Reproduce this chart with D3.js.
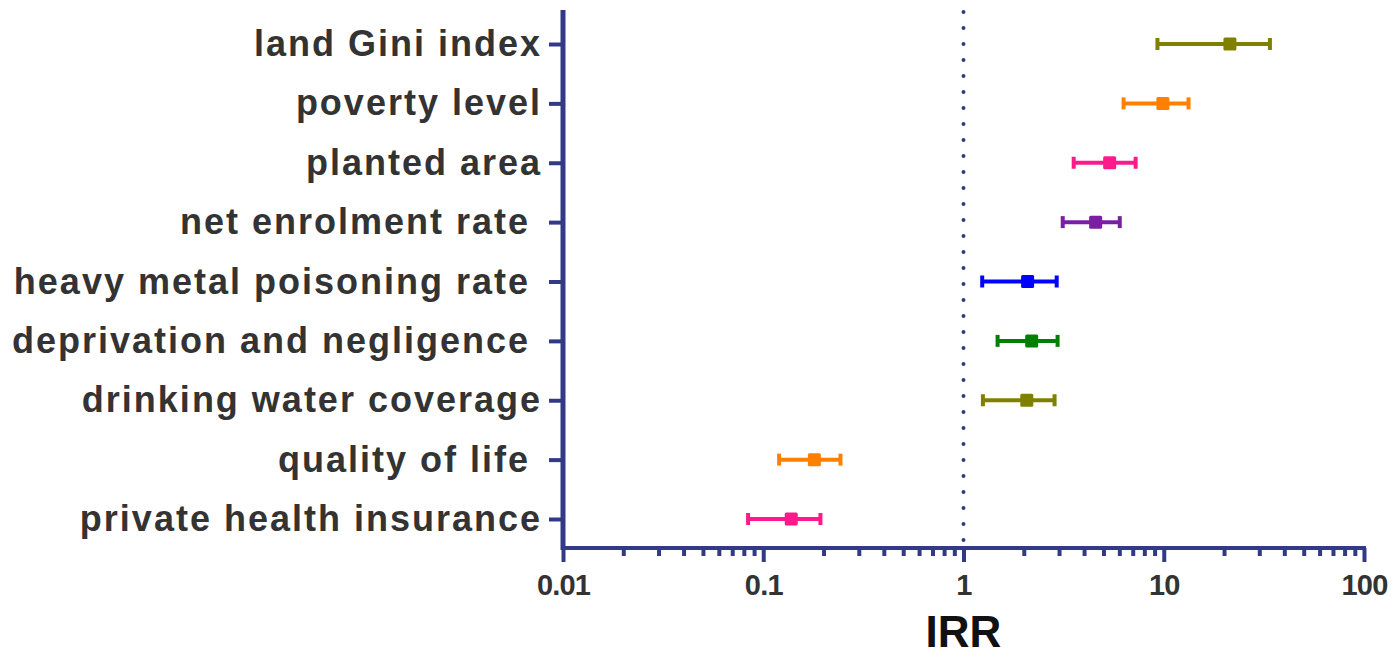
<!DOCTYPE html>
<html>
<head>
<meta charset="utf-8">
<script src="https://cdn.jsdelivr.net/npm/d3@7"></script>
<style>
  body { margin: 0; background: #fff; }
  text { font-family: "Liberation Sans", Arial, sans-serif; }
</style>
</head>
<body>
<div id="chart"></div>
<script>

// categories top to bottom (trailing spaces are in the original labels)
var categories = [
  "land Gini index",
  "poverty level",
  "planted area",
  "net enrolment rate ",
  "heavy metal poisoning rate ",
  "deprivation and negligence ",
  "drinking water coverage",
  "quality of life ",
  "private health insurance"
];
var irr   = [21.4, 9.9, 5.37, 4.57, 2.09, 2.19, 2.07, 0.18, 0.138];
var lower = [9.3, 6.3, 3.55, 3.13, 1.24, 1.48, 1.25, 0.12, 0.084];
var upper = [33.9, 13.3, 7.24, 6.03, 2.92, 2.95, 2.85, 0.243, 0.193];
var colors = ["#808000", "#ff8000", "#ff1a8c", "#7b1fa2", "#0000ff",
              "#008000", "#808000", "#ff8000", "#ff1a8c"];
var xTicks = [0.01, 0.1, 1, 10, 100];
var xTickLabels = ["0.01", "0.1", "1", "10", "100"];

var width = 1396, height = 656,
    axisColor = "#323a87";

var svg = d3.select("#chart")
    .append("svg")
        .attr("width", width)
        .attr("height", height);

// scales
var xScale = d3.scaleLog()
    .domain([0.01, 100])
    .range([563, 1364]);

var yScale = d3.scalePoint()
    .domain(categories)
    .range([44, 519]);

// minor ticks 2..9 in each decade
var minorTicks = [];
xTicks.slice(0, -1).forEach(function(t) {
    for (var k = 2; k < 10; k++) minorTicks.push(t * k);
});

// x axis: line + major/minor ticks drawn with d3 axes
var xAxisMajor = d3.axisBottom(xScale)
    .tickValues(xTicks)
    .tickSize(14)
    .tickFormat(function(d, i) { return xTickLabels[i]; });

var xAxisMinor = d3.axisBottom(xScale)
    .tickValues(minorTicks)
    .tickSize(8)
    .tickFormat("");

var gxMinor = svg.append("g")
    .attr("transform", "translate(0,548)")
    .call(xAxisMinor);

var gx = svg.append("g")
    .attr("transform", "translate(0,548)")
    .call(xAxisMajor);

[gx, gxMinor].forEach(function(g) {
    g.select(".domain").remove();
    g.selectAll(".tick line")
        .attr("stroke", axisColor)
        .attr("stroke-width", 4);
});

gx.selectAll(".tick text")
    .attr("y", 26)
    .attr("dy", "0.71em")
    .attr("fill", "#333")
    .style("font-size", "29px")
    .style("font-weight", "bold")
    .style("letter-spacing", "-0.8px");

svg.append("line")
    .attr("x1", 561).attr("x2", 1366)
    .attr("y1", 548).attr("y2", 548)
    .attr("stroke", axisColor)
    .attr("stroke-width", 4);

// y axis
var yAxis = d3.axisLeft(yScale).tickSize(14).tickPadding(8);

var gy = svg.append("g")
    .attr("transform", "translate(563,0)")
    .call(yAxis);

gy.select(".domain").remove();
gy.selectAll(".tick line")
    .attr("stroke", axisColor)
    .attr("stroke-width", 4);
gy.selectAll(".tick text")
    .attr("fill", "#333")
    .attr("x", -21)
    .style("font-size", "36px")
    .style("font-weight", "bold")
    .style("letter-spacing", "2px")
    .style("white-space", "pre");

svg.append("line")
    .attr("x1", 563).attr("x2", 563)
    .attr("y1", 10).attr("y2", 550)
    .attr("stroke", axisColor)
    .attr("stroke-width", 5);

// reference line at IRR = 1
svg.append("line")
    .attr("x1", xScale(1)).attr("x2", xScale(1))
    .attr("y1", 12).attr("y2", 546)
    .attr("stroke", axisColor)
    .attr("stroke-width", 4)
    .attr("stroke-linecap", "round")
    .attr("stroke-dasharray", "0 16");

// error bars
var rows = categories.map(function(c, i) {
    return { name: c, v: irr[i], lo: lower[i], hi: upper[i], color: colors[i] };
});

var bars = svg.append("g").selectAll("g")
    .data(rows)
    .enter().append("g");

bars.append("line")
    .attr("x1", function(d) { return xScale(d.lo); })
    .attr("x2", function(d) { return xScale(d.hi); })
    .attr("y1", function(d) { return yScale(d.name); })
    .attr("y2", function(d) { return yScale(d.name); })
    .attr("stroke", function(d) { return d.color; })
    .attr("stroke-width", 4);

["lo", "hi"].forEach(function(k) {
    bars.append("line")
        .attr("x1", function(d) { return xScale(d[k]); })
        .attr("x2", function(d) { return xScale(d[k]); })
        .attr("y1", function(d) { return yScale(d.name) - 6; })
        .attr("y2", function(d) { return yScale(d.name) + 6; })
        .attr("stroke", function(d) { return d.color; })
        .attr("stroke-width", 4);
});

bars.append("rect")
    .attr("x", function(d) { return xScale(d.v) - 6.5; })
    .attr("y", function(d) { return yScale(d.name) - 6.5; })
    .attr("width", 13)
    .attr("height", 13)
    .attr("rx", 1.5)
    .attr("fill", function(d) { return d.color; });

// axis title
svg.append("text")
    .attr("x", xScale(1))
    .attr("y", 647)
    .attr("text-anchor", "middle")
    .attr("fill", "#111")
    .style("font-size", "44px")
    .style("font-weight", "bold")
    .text("IRR");

</script>
</body>
</html>
